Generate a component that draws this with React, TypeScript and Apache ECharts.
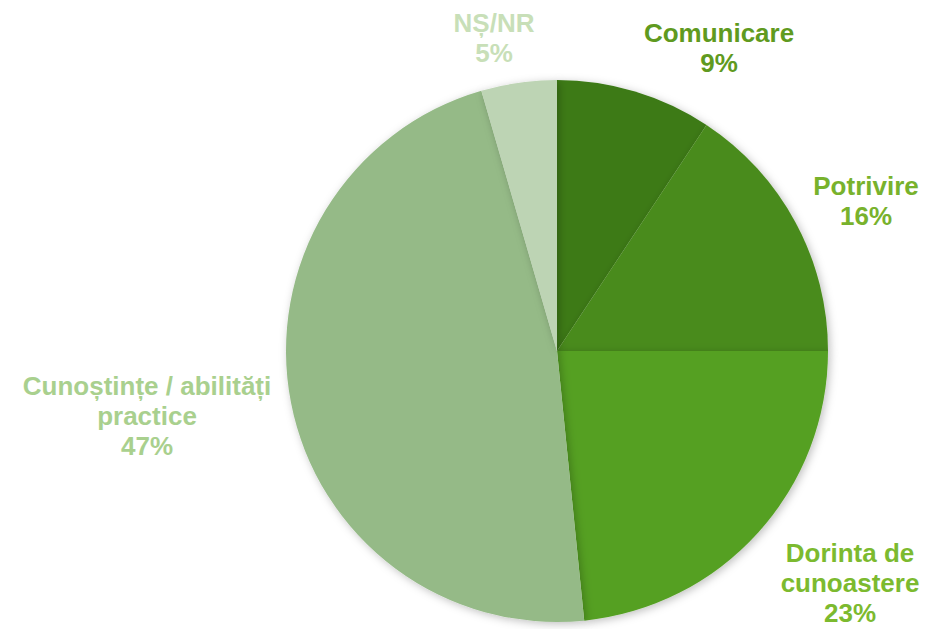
import React, { useEffect, useRef } from "react";
import * as echarts from "echarts";

const categories = ["Comunicare", "Potrivire", "Dorinta de\ncunoastere", "Cunoștințe / abilități\npractice", "NȘ/NR"];
const values = [9.3, 15.7, 23.4, 47.1, 4.5];
const sliceColors = ["#3c7a18", "#4a8b1d", "#54a022", "#95ba87", "#bdd4b4"];
const labelColors = ["#5f9a20", "#78b22c", "#7cba2f", "#a9d08e", "#c8dfb8"];
const labelPos: [number, number][] = [
  [719, 48],
  [866, 201],
  [850, 583],
  [147, 416],
  [494, 38],
];

export default function App() {
  const ref = useRef<HTMLDivElement>(null);
  useEffect(() => {
    if (!ref.current) return;
    const chart = echarts.init(ref.current, null, { renderer: "svg" });
    chart.setOption({
      animation: false,
      backgroundColor: "#ffffff",
      series: [
        {
          type: "pie",
          center: [557, 351],
          radius: 271,
          startAngle: 90,
          clockwise: true,
          data: categories.map((c, i) => ({
            name: c,
            value: values[i],
            itemStyle: { color: sliceColors[i] },
            label: { color: labelColors[i] },
          })),
          itemStyle: {
            borderWidth: 0,
            shadowBlur: 8,
            shadowColor: "rgba(0,0,0,0.25)",
            shadowOffsetX: 2,
            shadowOffsetY: 2,
          },
          label: {
            show: true,
            position: "outside",
            formatter: (p: any) => `${p.name}\n${Math.round(p.value)}%`,
            fontFamily: "Liberation Sans, Arial, sans-serif",
            fontWeight: "bold",
            fontSize: 26,
            lineHeight: 30,
            align: "center",
            overflow: "none",
            width: 400,
          },
          labelLine: { show: false },
          labelLayout: (params: any) => {
            const p = labelPos[params.dataIndex];
            return { x: p[0], y: p[1], align: "center", verticalAlign: "middle" };
          },
          emphasis: { disabled: true },
        },
      ],
    });
    return () => chart.dispose();
  }, []);
  return (
    <div
      ref={ref}
      style={{ position: "absolute", left: 0, top: 0, width: 930, height: 629 }}
    />
  );
}
